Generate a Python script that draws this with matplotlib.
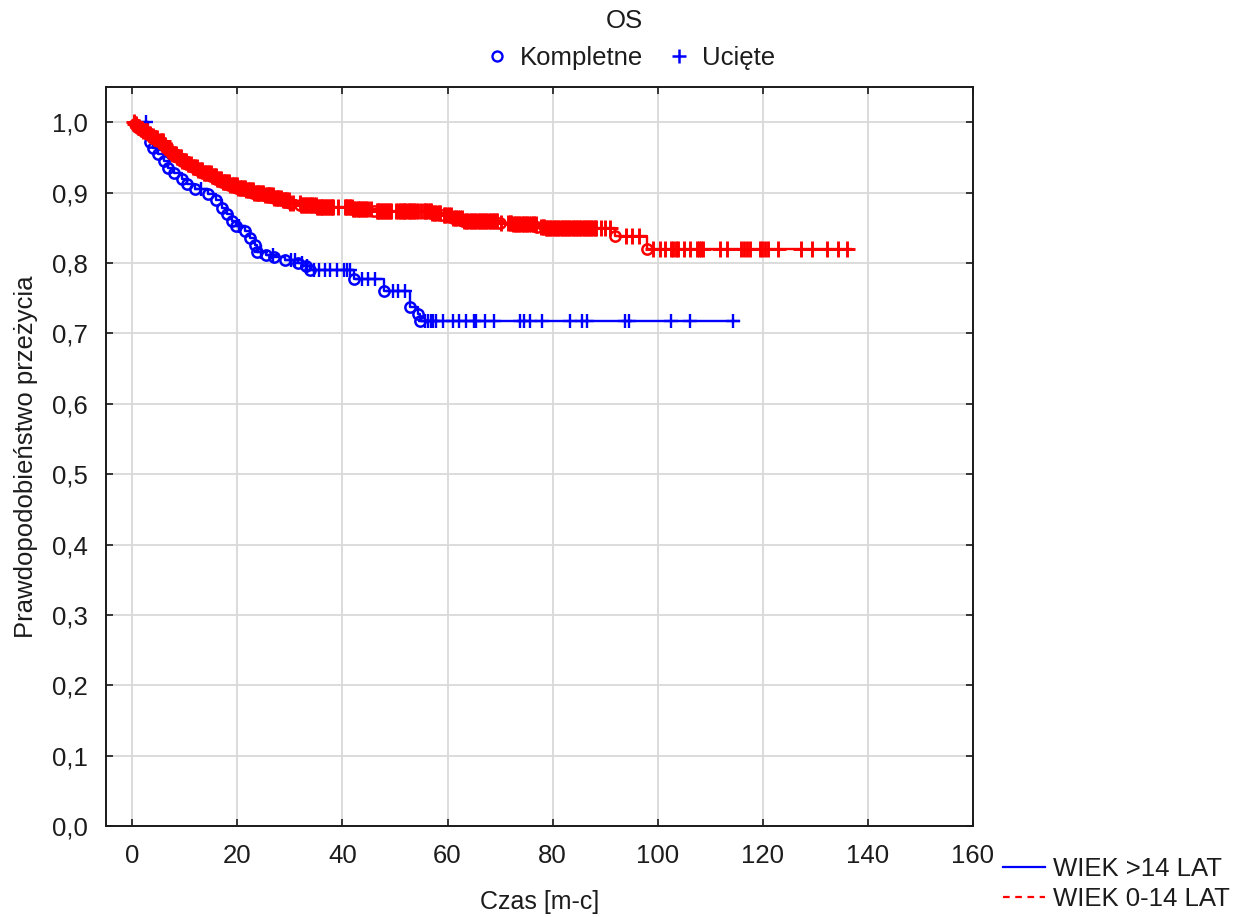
"""
Kaplan-Meier OS chart, two age groups
"""

import numpy as np
import matplotlib
matplotlib.use("Agg")
import matplotlib.pyplot as plt
from matplotlib.lines import Line2D

plt.rcParams['font.family'] = ['Liberation Sans', 'DejaVu Sans']

# --- data: step curves (time, survival after step) ---
blue_t = [0, 3.0, 3.4, 3.9, 5.0, 6.0, 6.8, 8.0, 9.5, 10.5, 12.0, 14.5, 16.0,
          17.0, 18.0, 19.0, 19.8, 21.5, 22.5, 23.3, 23.8, 25.5, 27.0, 29.0,
          31.5, 33.0, 33.8, 42.3, 47.9, 52.8, 54.3, 54.8]
blue_s = [1.0, 0.985, 0.972, 0.963, 0.955, 0.945, 0.935, 0.928, 0.920, 0.912,
          0.905, 0.898, 0.890, 0.878, 0.870, 0.860, 0.852, 0.845, 0.835, 0.825,
          0.815, 0.812, 0.808, 0.804, 0.800, 0.795, 0.790, 0.777, 0.760, 0.738,
          0.728, 0.718]
blue_cens = [2.6, 13.0, 20.3, 24.5, 26.8, 30.2, 31.0, 32.3, 33.2, 34.6, 35.6,
             36.6, 37.6, 39.0, 40.3, 40.8, 41.4, 43.7, 44.9, 46.2, 49.7, 50.6,
             51.9, 55.8, 56.3, 56.8, 57.3, 57.9, 59.2, 61.1, 62.2, 63.6, 65.0,
             65.4, 67.1, 68.9, 73.8, 74.6, 75.7, 77.9, 83.3, 85.5, 86.6, 93.7,
             94.5, 102.6, 106.1, 114.3]
blue_end = 115.5

red_t = [0, 0.5, 1.0, 1.5, 2.0, 3.0, 3.5, 4.0, 5.0, 6.0, 6.5, 7.0, 7.5, 8.5,
         9.5, 10.5, 11.5, 12.5, 13.5, 15.0, 16.0, 17.0, 18.5, 20.0, 21.5,
         23.0, 25.0, 27.0, 28.5, 30.0, 32.0, 35.0, 42.0, 46.0, 57.0, 59.0,
         61.0, 63.0, 70.0, 72.5, 77.0, 78.5, 91.8, 97.9]
red_s = [1.0, 0.997, 0.993, 0.990, 0.987, 0.983, 0.980, 0.977, 0.973, 0.968,
         0.964, 0.960, 0.955, 0.950, 0.945, 0.940, 0.936, 0.932, 0.928, 0.923,
         0.919, 0.915, 0.911, 0.907, 0.903, 0.899, 0.896, 0.893, 0.889, 0.885,
         0.882, 0.879, 0.877, 0.874, 0.871, 0.868, 0.864, 0.860, 0.857, 0.855,
         0.851, 0.849, 0.838, 0.820]
red_cens = [0.3, 0.6, 0.8, 1.1, 1.3, 1.6, 1.9, 2.1, 2.4, 2.6, 2.8, 3.1, 3.3,
            3.6, 3.9, 4.1, 4.4, 4.6, 4.8, 5.1, 5.4, 5.6, 5.9, 6.1, 6.3, 6.6,
            6.8, 7.1, 7.3, 7.6, 7.9, 8.1, 8.3, 8.6, 8.8, 9.0, 9.2, 9.5, 9.8,
            10.0, 10.3, 10.6, 10.9, 11.2, 11.5, 11.8, 12.0, 12.3, 12.6, 12.9,
            13.1, 13.3, 13.6, 13.8, 14.1, 14.4, 14.7, 14.9, 15.2, 15.5, 15.7,
            15.9, 16.2, 16.4, 16.7, 16.9, 17.2, 17.5, 17.7, 17.9, 18.2, 18.4,
            18.7, 18.9, 19.2, 19.4, 19.7, 19.9, 20.2, 20.5, 20.7, 20.9, 21.2,
            21.4, 21.7, 22.0, 22.2, 22.5, 22.7, 22.9, 23.2, 23.5, 23.8, 24.0,
            24.2, 24.4, 24.7, 24.9, 25.3, 25.6, 25.8, 26.1, 26.3, 26.5, 26.8,
            27.0, 27.3, 27.6, 27.8, 28.0, 28.3, 28.6, 28.8, 29.1, 29.3, 29.5,
            29.8, 30.0, 30.6, 31.9, 32.2, 32.4, 32.7, 32.9, 33.2, 33.5, 33.8,
            34.0, 34.3, 34.6, 34.9, 35.1, 35.4, 35.7, 35.9, 36.2, 36.4, 36.6,
            36.9, 37.2, 37.5, 37.8, 38.0, 38.3, 39.2, 40.4, 40.7, 40.9, 41.2,
            41.5, 41.8, 42.1, 42.3, 42.6, 42.9, 43.2, 43.4, 43.7, 44.0, 44.3,
            44.5, 44.8, 45.5, 46.5, 46.8, 47.0, 47.3, 47.6, 47.9, 48.1, 48.4,
            48.7, 49.0, 49.3, 50.2, 50.5, 50.9, 51.2, 51.5, 51.7, 52.0, 52.3,
            52.6, 52.8, 53.1, 53.4, 53.7, 54.0, 54.3, 55.0, 55.5, 55.8, 56.0,
            56.3, 56.6, 56.9, 57.1, 57.4, 57.7, 58.0, 58.3, 58.6, 59.3, 59.6,
            59.9, 60.3, 60.6, 61.0, 61.4, 61.7, 62.0, 62.4, 62.7, 63.1, 63.5,
            63.8, 64.1, 64.4, 64.7, 65.0, 65.3, 65.6, 65.9, 66.2, 66.5, 66.8,
            67.1, 67.4, 67.7, 68.0, 68.3, 68.6, 68.9, 69.2, 69.5, 70.2, 71.5,
            71.8, 72.1, 72.5, 72.8, 73.1, 73.4, 73.7, 74.0, 74.3, 74.6, 74.9,
            75.2, 75.6, 75.9, 76.2, 76.5, 76.8, 77.8, 78.1, 78.4, 78.7, 79.0,
            79.3, 79.6, 79.9, 80.2, 80.5, 80.8, 81.1, 81.4, 81.7, 82.0, 82.3,
            82.6, 82.9, 83.2, 83.5, 83.8, 84.1, 84.4, 84.7, 85.0, 85.3, 85.6,
            85.9, 86.2, 86.5, 86.8, 87.1, 87.4, 87.7, 88.0, 88.2, 89.2, 90.0,
            90.9, 94.0, 95.2, 96.5, 99.1, 100.4, 101.3, 102.6, 103.0, 103.4,
            103.9, 105.1, 106.1, 107.4, 107.8, 108.2, 108.6, 111.8, 113.1,
            115.9, 116.5, 117.0, 117.5, 119.4, 119.9, 120.4, 120.9, 122.9,
            127.3, 129.4, 132.2, 134.3, 136.0]
red_end = 136.8

x_ticks = [0, 20, 40, 60, 80, 100, 120, 140, 160]
y_ticks = [0.0, 0.1, 0.2, 0.3, 0.4, 0.5, 0.6, 0.7, 0.8, 0.9, 1.0]
y_labels = [f"{v:.1f}".replace(".", ",") for v in y_ticks]

FS = 18.5
TXT = "#1c1c1c"


def surv_at(times, surv, pts):
    idx = np.searchsorted(times, pts, side="right") - 1
    return np.asarray(surv)[idx]


def draw_group(ax, times, surv, cens, end, color, z, pms, pmew):
    xs = list(times) + [end]
    ys = list(surv) + [surv[-1]]
    ax.step(xs, ys, where="post", color=color, lw=1.7, zorder=z)
    ax.plot(times[1:], surv[1:], "o", ms=7.4, mfc="none", mec=color,
            mew=1.8, ls="none", zorder=z)
    ax.plot(cens, surv_at(times, surv, cens), "+", ms=pms, mec=color,
            mew=pmew, ls="none", zorder=z)


fig = plt.figure(figsize=(12.42, 9.17), dpi=100)
ax = fig.add_axes([0.0853, 0.0992, 0.6981, 0.8059])

draw_group(ax, blue_t, blue_s, blue_cens, blue_end, "#0000ff", 3, 10.5, 1.7)
draw_group(ax, red_t, red_s, red_cens, red_end, "#ff0000", 4, 12, 2.1)

ax.set_xlim(-5, 160)
ax.set_ylim(0, 1.05)
ax.set_xticks(x_ticks)
ax.set_yticks(y_ticks)
ax.set_yticklabels(y_labels)
ax.grid(True, color="#d9d9d9", lw=1.3)
ax.set_axisbelow(True)
for sp in ax.spines.values():
    sp.set_linewidth(1.4)
    sp.set_color("#1a1a1a")
ax.tick_params(direction="in", length=5, width=1.2, labelsize=FS,
               top=True, right=True, pad=13, colors="#1a1a1a",
               labelcolor=TXT)

ax.set_xlabel("Czas [m-c]", fontsize=18, labelpad=16, color=TXT)
ax.set_ylabel("Prawdopodobieństwo przeżycia", fontsize=FS, labelpad=10,
              color=TXT)

fig.text(0.503, 0.977, "OS", ha="center", va="center", fontsize=FS,
         color=TXT)
top_handles = [
    Line2D([], [], ls="none", marker="o", ms=7.2, mfc="none", mec="#0000ff", mew=1.7),
    Line2D([], [], ls="none", marker="+", ms=10, mec="#0000ff", mew=1.8),
]
fig.legend(top_handles, ["Kompletne", "Ucięte"], loc="center",
           bbox_to_anchor=(0.508, 0.937), ncol=2, frameon=False, fontsize=FS,
           handlelength=0.8, handletextpad=0.5, columnspacing=1.0,
           labelcolor=TXT)

bottom_handles = [
    Line2D([], [], color="#0000ff", lw=1.6),
    Line2D([], [], color="#ff0000", lw=1.6, ls=(0, (3, 2.5))),
]
fig.legend(bottom_handles, ["WIEK >14 LAT", "WIEK 0-14 LAT"], loc="lower left",
           bbox_to_anchor=(0.7928, -0.013), frameon=False, fontsize=FS,
           handlelength=1.65, handletextpad=0.3, labelspacing=0.22,
           borderpad=0.2, labelcolor=TXT)

fig.savefig("out.png", dpi=100)
